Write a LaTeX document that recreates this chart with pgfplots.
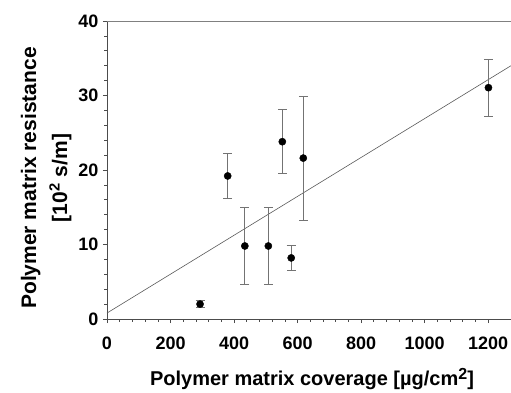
\documentclass[border=0pt]{standalone}
\usepackage{pgfplots}
\pgfplotsset{compat=1.18}
\usepackage{fontspec}
\setmainfont{Liberation Sans}
\begin{document}
\begin{tikzpicture}[x=1pt,y=1pt]
\begin{axis}[
  scale only axis,
  width=404pt, height=298pt,
  xmin=0, xmax=1272, ymin=0, ymax=40,
  axis x line*=bottom, axis y line*=left,
  axis line style={color=black!70, line width=0.8pt},
  xtick={0,200,400,600,800,1000,1200},
  ytick={0,10,20,30,40},
  minor x tick num=4, minor y tick num=4,
  tick align=outside,
  major tick length=4pt, minor tick length=2.5pt,
  every tick/.style={color=black!70, line width=0.6pt},
  /pgf/number format/assume math mode=true,
  /pgf/number format/1000 sep={},
  ticklabel style={font=\bfseries\fontsize{18}{18}\selectfont},
  xticklabel style={yshift=-10pt},
  yticklabel style={xshift=-1pt},
  xlabel={\bfseries Polymer matrix coverage [µg/cm\raisebox{0.6ex}{\fontsize{16}{16}\selectfont 2}]},
  xlabel style={font=\bfseries\fontsize{20}{20}\selectfont, xshift=3pt, yshift=-12pt},
  ylabel={\bfseries Polymer matrix resistance\\ \bfseries [10\textsuperscript{2} s/m]},
  ylabel style={font=\bfseries\fontsize{21}{31}\selectfont, align=center, xshift=-8pt},
  clip=false,
]
\addplot[color=black!65, line width=0.6pt] coordinates {(0,0.8) (1272,34.0)};
\addplot[only marks, mark=*, mark size=3.6pt, color=black,
  error bars/.cd, y dir=both, y explicit,
  error bar style={color=black!55, line width=0.8pt},
  error mark options={rotate=90, mark size=4.5pt, color=black!55, line width=0.8pt}]
  coordinates {
  (293,2.0) +- (0,0.5)
  (380,19.2) +- (0,3.0)
  (434,9.8) +- (0,5.2)
  (508,9.8) +- (0,5.2)
  (552,23.8) +- (0,4.3)
  (580,8.2) +- (0,1.7)
  (618,21.6) +- (0,8.3)
  (1201,31.05) +- (0,3.85)
  };
\draw[color=black!50, line width=0.8pt] (axis cs:0,40) -- (axis cs:1272,40);
\coordinate (sw) at (rel axis cs:0,0);
\coordinate (ne) at (rel axis cs:1,1);
\end{axis}
\pgfresetboundingbox
\path ([shift={(-107pt,-74pt)}]sw) rectangle ([shift={(0pt,21pt)}]ne);
\end{tikzpicture}
\end{document}
